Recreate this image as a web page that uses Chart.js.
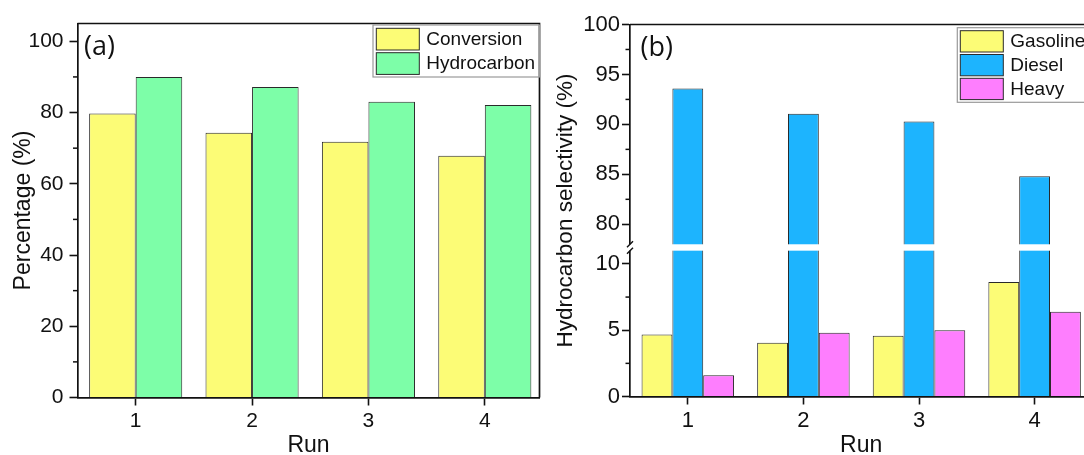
<!DOCTYPE html>
<html>
<head>
<meta charset="utf-8">
<script src="https://cdn.jsdelivr.net/npm/chart.js@4.4.1/dist/chart.umd.min.js"></script>
<style>
  html, body { margin: 0; padding: 0; background: #fff; }
  #wrap { position: relative; width: 1084px; height: 455px; overflow: hidden; }
  #chartA, #chartB { position: absolute; top: 0; }
  #chartA { left: 0; }
  #chartB { left: 540px; }
</style>
</head>
<body>
<div id="wrap">
  <canvas id="chartA" width="548" height="470"></canvas>
  <canvas id="chartB" width="560" height="470"></canvas>
</div>
<script>
// runs on the x axis
const runs = [1, 2, 3, 4];

// (a) conversion and hydrocarbon yield, %
const conversion = [79.7, 74.3, 71.8, 67.9];
const hydrocarbon = [90.0, 87.2, 83.0, 82.1];
const ticksA = [0, 20, 40, 60, 80, 100];
const minorA = [10, 30, 50, 70, 90];

// (b) selectivity by fraction, %
const gasoline = [4.68, 4.05, 4.58, 8.63];
const diesel = [93.6, 91.07, 90.3, 84.8];
const heavy = [1.6, 4.8, 5.0, 6.4];
const ticksB = [0, 5, 10, 80, 85, 90, 95, 100];
const minorB = [2.5, 7.5, 82.5, 87.5, 92.5, 97.5];

// y axis of (b) is cut between these two values
const BREAK_LOW = 11;
const BREAK_HIGH = 78;
const LOW_FRAC = 0.392;   // share of the axis height for 0..BREAK_LOW
const GAP_FRAC = 0.0172;  // white band between the two parts

const INK = '#111';
const EDGE = '#2a2a2a';
const YELLOW = '#fcfc76';
const GREEN = '#7dfea8';
const BLUE = '#1db4fe';
const PINK = '#fe7efe';

Chart.defaults.font.family = '"Liberation Sans", Arial, sans-serif';
Chart.defaults.color = INK;

// linear scale with a gap in the middle
class BrokenScale extends Chart.LinearScale {
  static id = 'broken';
  static defaults = Chart.LinearScale.defaults;

  parts() {
    const h = this.bottom - this.top;
    const low = h * LOW_FRAC, gap = h * GAP_FRAC;
    return { low, gap, high: h - low - gap };
  }
  getPixelForValue(value) {
    const { low, gap, high } = this.parts();
    if (value <= BREAK_LOW) return this.bottom - (value - this.min) / (BREAK_LOW - this.min) * low;
    if (value >= BREAK_HIGH) return this.top + (this.max - value) / (this.max - BREAK_HIGH) * high;
    return this.bottom - low - gap / 2;
  }
  getValueForPixel(pixel) {
    const { low, high } = this.parts();
    if (pixel >= this.bottom - low) return (this.bottom - pixel) / low * BREAK_LOW;
    if (pixel <= this.top + high) return this.max - (pixel - this.top) / high * (this.max - BREAK_HIGH);
    return (BREAK_LOW + BREAK_HIGH) / 2;
  }
}
Chart.register(BrokenScale);

// frame, minor ticks, axis break, panel letter and legend box
const decor = {
  id: 'decor',
  afterDraw(chart, args, o) {
    const { ctx, chartArea: a } = chart;
    const y = chart.scales.y;
    ctx.save();
    ctx.strokeStyle = INK;
    ctx.lineWidth = 1.7;
    ctx.beginPath();
    ctx.moveTo(a.left, a.top);
    ctx.lineTo(a.right, a.top);
    ctx.lineTo(a.right, a.bottom);
    ctx.stroke();

    ctx.lineWidth = 1.5;
    o.minor.forEach(v => {
      const py = y.getPixelForValue(v);
      ctx.beginPath();
      ctx.moveTo(a.left, py);
      ctx.lineTo(a.left - 4.5, py);
      ctx.stroke();
    });

    if (o.broken) {
      const gTop = y.getPixelForValue(BREAK_HIGH);
      const gBot = y.getPixelForValue(BREAK_LOW);
      ctx.fillStyle = '#fff';
      ctx.fillRect(a.left - 5, gTop, a.right - a.left + 5, gBot - gTop);
      [gTop, gBot].forEach(py => {
        ctx.beginPath();
        ctx.moveTo(a.left - 3, py + 3);
        ctx.lineTo(a.left + 3, py - 3);
        ctx.stroke();
      });
    }

    ctx.fillStyle = INK;
    ctx.textBaseline = 'middle';
    ctx.font = '27px "Open Sans", sans-serif';
    ctx.fillText(o.tag, a.left + o.tagX, o.tagY);

    const L = o.legend;
    ctx.strokeStyle = '#9a9a9a';
    ctx.lineWidth = 1.2;
    ctx.strokeRect(L.left, L.top, a.right - L.left, L.height);
    ctx.font = '19px "Liberation Sans", Arial, sans-serif';
    chart.data.datasets.forEach((ds, i) => {
      const ry = L.top + L.inset + i * L.pitch;
      ctx.fillStyle = ds.backgroundColor;
      ctx.fillRect(L.left + L.inset, ry, 43, L.swH);
      ctx.strokeStyle = EDGE;
      ctx.lineWidth = 1;
      ctx.strokeRect(L.left + L.inset, ry, 43, L.swH);
      ctx.fillStyle = INK;
      ctx.fillText(ds.label, L.left + L.inset + 50, ry + L.swH / 2 + 0.5);
    });
    ctx.restore();
  }
};

function bars(label, values, color) {
  return {
    label: label,
    data: runs.map((r, i) => ({ x: r, y: values[i] })),
    backgroundColor: color,
    borderColor: EDGE,
    borderWidth: 1,
    categoryPercentage: 0.8,
    barPercentage: 1.0
  };
}

function xAxis(max, height, tickSize) {
  return {
    type: 'linear', min: 0.5, max: max, offset: false, z: 1,
    afterBuildTicks: s => { s.ticks = runs.map(v => ({ value: v })); },
    afterFit: s => { s.height = height; },
    ticks: { font: { size: tickSize }, padding: 3, callback: v => String(v), autoSkip: false, maxRotation: 0 },
    grid: { display: true, drawOnChartArea: false, drawTicks: true, tickLength: 8, tickWidth: 1.6, tickColor: INK, offset: false },
    border: { display: true, color: INK, width: 1.7 },
    title: { display: true, text: 'Run', font: { size: 23 }, padding: { top: 0, bottom: 10.2 } }
  };
}

function yAxis(type, max, tickList, width, tickSize, labelPad, title, titleSize, titlePad) {
  return {
    type: type, min: 0, max: max, z: 1,
    afterBuildTicks: s => { s.ticks = tickList.map(v => ({ value: v })); },
    afterFit: s => { s.width = width; },
    ticks: { font: { size: tickSize }, padding: labelPad, callback: v => String(v), autoSkip: false },
    grid: { display: true, drawOnChartArea: false, drawTicks: true, tickLength: 8, tickWidth: 1.6, tickColor: INK },
    border: { display: true, color: INK, width: 1.7 },
    title: { display: true, text: title, font: { size: titleSize }, padding: { top: titlePad, bottom: 0 } }
  };
}

new Chart(document.getElementById('chartA'), {
  type: 'bar',
  data: { datasets: [bars('Conversion', conversion, YELLOW), bars('Hydrocarbon', hydrocarbon, GREEN)] },
  options: {
    responsive: false,
    animation: false,
    layout: { padding: { left: 0, top: 23.5, right: 8.5, bottom: 0 } },
    plugins: {
      legend: { display: false },
      tooltip: { enabled: false },
      decor: {
        tag: '(a)', tagX: 6.5, tagY: 47, minor: minorA, broken: false,
        legend: { left: 373, top: 25, height: 52, inset: 3.3, pitch: 24.4, swH: 21.7 }
      }
    },
    scales: {
      x: xAxis(4.47, 72.5, 21),
      y: yAxis('linear', 105, ticksA, 77.5, 21, 6, 'Percentage (%)', 23, 10.2)
    }
  },
  plugins: [decor]
});

new Chart(document.getElementById('chartB'), {
  type: 'bar',
  data: { datasets: [bars('Gasoline', gasoline, YELLOW), bars('Diesel', diesel, BLUE), bars('Heavy', heavy, PINK)] },
  options: {
    responsive: false,
    animation: false,
    layout: { padding: { left: 0, top: 24.5, right: 7.6, bottom: 0 } },
    plugins: {
      legend: { display: false },
      tooltip: { enabled: false },
      decor: {
        tag: '(b)', tagX: 10.5, tagY: 48, minor: minorB, broken: true,
        legend: { left: 417.3, top: 27.7, height: 74.6, inset: 3, pitch: 23.8, swH: 21.3 }
      }
    },
    scales: {
      x: xAxis(4.5, 73.5, 22),
      y: yAxis('broken', 100, ticksB, 90, 22, 2, 'Hydrocarbon selectivity (%)', 22.5, 12.5)
    }
  },
  plugins: [decor]
});
</script>
</body>
</html>
